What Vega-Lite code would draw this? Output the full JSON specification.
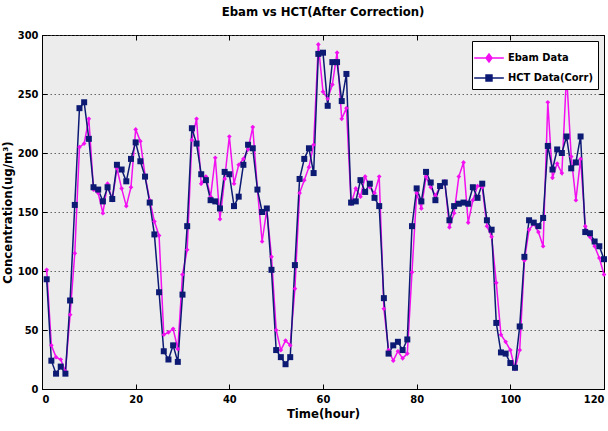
{
  "$schema": "https://vega.github.io/schema/vega-lite/v6.json",
  "width": 562,
  "height": 354,
  "autosize": {"type": "none"},
  "padding": {"left": 42, "top": 35, "right": 4, "bottom": 42},
  "background": "white",
  "title": {"text": "Ebam vs HCT(After Correction)", "fontSize": 13, "fontWeight": "bold", "font": "DejaVu Sans Condensed", "color": "#000", "offset": 10, "anchor": "middle"},
  "config": {
    "view": {"fill": "#ececec", "stroke": "#000", "strokeWidth": 1},
    "axis": {"domainColor": "#000", "tickColor": "#000", "labelColor": "#000", "titleColor": "#000", "labelFont": "DejaVu Sans Condensed", "titleFont": "DejaVu Sans Condensed", "labelFontWeight": "bold", "titleFontWeight": "bold", "labelFontSize": 11, "titleFontSize": 13, "gridColor": "#444", "gridDash": [1.5, 2.5], "gridOpacity": 0.8, "gridWidth": 1, "tickSize": -5, "labelPadding": 9}
  },
  "data": {"values": [
    {"hour":1,"series":"Ebam Data","value":101},{"hour":2,"series":"Ebam Data","value":37},{"hour":3,"series":"Ebam Data","value":27},{"hour":4,"series":"Ebam Data","value":25},{"hour":5,"series":"Ebam Data","value":15},{"hour":6,"series":"Ebam Data","value":63},{"hour":7,"series":"Ebam Data","value":115},{"hour":8,"series":"Ebam Data","value":205},{"hour":9,"series":"Ebam Data","value":208},{"hour":10,"series":"Ebam Data","value":229},
    {"hour":11,"series":"Ebam Data","value":169},{"hour":12,"series":"Ebam Data","value":166},{"hour":13,"series":"Ebam Data","value":149},{"hour":14,"series":"Ebam Data","value":174},{"hour":15,"series":"Ebam Data","value":160},{"hour":16,"series":"Ebam Data","value":187},{"hour":17,"series":"Ebam Data","value":170},{"hour":18,"series":"Ebam Data","value":155},{"hour":19,"series":"Ebam Data","value":171},{"hour":20,"series":"Ebam Data","value":220},
    {"hour":21,"series":"Ebam Data","value":210},{"hour":22,"series":"Ebam Data","value":181},{"hour":23,"series":"Ebam Data","value":160},{"hour":24,"series":"Ebam Data","value":142},{"hour":25,"series":"Ebam Data","value":130},{"hour":26,"series":"Ebam Data","value":46},{"hour":27,"series":"Ebam Data","value":48},{"hour":28,"series":"Ebam Data","value":51},{"hour":29,"series":"Ebam Data","value":34},{"hour":30,"series":"Ebam Data","value":97},
    {"hour":31,"series":"Ebam Data","value":118},{"hour":32,"series":"Ebam Data","value":211},{"hour":33,"series":"Ebam Data","value":229},{"hour":34,"series":"Ebam Data","value":174},{"hour":35,"series":"Ebam Data","value":180},{"hour":36,"series":"Ebam Data","value":163},{"hour":37,"series":"Ebam Data","value":196},{"hour":38,"series":"Ebam Data","value":144},{"hour":39,"series":"Ebam Data","value":178},{"hour":40,"series":"Ebam Data","value":214},
    {"hour":41,"series":"Ebam Data","value":174},{"hour":42,"series":"Ebam Data","value":190},{"hour":43,"series":"Ebam Data","value":195},{"hour":44,"series":"Ebam Data","value":203},{"hour":45,"series":"Ebam Data","value":222},{"hour":46,"series":"Ebam Data","value":169},{"hour":47,"series":"Ebam Data","value":125},{"hour":48,"series":"Ebam Data","value":152},{"hour":49,"series":"Ebam Data","value":112},{"hour":50,"series":"Ebam Data","value":50},
    {"hour":51,"series":"Ebam Data","value":33},{"hour":52,"series":"Ebam Data","value":41},{"hour":53,"series":"Ebam Data","value":37},{"hour":54,"series":"Ebam Data","value":85},{"hour":55,"series":"Ebam Data","value":166},{"hour":56,"series":"Ebam Data","value":177},{"hour":57,"series":"Ebam Data","value":188},{"hour":58,"series":"Ebam Data","value":207},{"hour":59,"series":"Ebam Data","value":292},{"hour":60,"series":"Ebam Data","value":252},
    {"hour":61,"series":"Ebam Data","value":246},{"hour":62,"series":"Ebam Data","value":258},{"hour":63,"series":"Ebam Data","value":285},{"hour":64,"series":"Ebam Data","value":229},{"hour":65,"series":"Ebam Data","value":238},{"hour":66,"series":"Ebam Data","value":157},{"hour":67,"series":"Ebam Data","value":170},{"hour":68,"series":"Ebam Data","value":163},{"hour":69,"series":"Ebam Data","value":180},{"hour":70,"series":"Ebam Data","value":171},
    {"hour":71,"series":"Ebam Data","value":166},{"hour":72,"series":"Ebam Data","value":180},{"hour":73,"series":"Ebam Data","value":68},{"hour":74,"series":"Ebam Data","value":33},{"hour":75,"series":"Ebam Data","value":24},{"hour":76,"series":"Ebam Data","value":32},{"hour":77,"series":"Ebam Data","value":26},{"hour":78,"series":"Ebam Data","value":30},{"hour":79,"series":"Ebam Data","value":99},{"hour":80,"series":"Ebam Data","value":166},
    {"hour":81,"series":"Ebam Data","value":153},{"hour":82,"series":"Ebam Data","value":180},{"hour":83,"series":"Ebam Data","value":171},{"hour":84,"series":"Ebam Data","value":164},{"hour":85,"series":"Ebam Data","value":171},{"hour":86,"series":"Ebam Data","value":176},{"hour":87,"series":"Ebam Data","value":137},{"hour":88,"series":"Ebam Data","value":149},{"hour":89,"series":"Ebam Data","value":180},{"hour":90,"series":"Ebam Data","value":192},
    {"hour":91,"series":"Ebam Data","value":141},{"hour":92,"series":"Ebam Data","value":160},{"hour":93,"series":"Ebam Data","value":172},{"hour":94,"series":"Ebam Data","value":171},{"hour":95,"series":"Ebam Data","value":138},{"hour":96,"series":"Ebam Data","value":129},{"hour":97,"series":"Ebam Data","value":90},{"hour":98,"series":"Ebam Data","value":46},{"hour":99,"series":"Ebam Data","value":40},{"hour":100,"series":"Ebam Data","value":33},
    {"hour":101,"series":"Ebam Data","value":17},{"hour":102,"series":"Ebam Data","value":33},{"hour":103,"series":"Ebam Data","value":109},{"hour":104,"series":"Ebam Data","value":135},{"hour":105,"series":"Ebam Data","value":140},{"hour":106,"series":"Ebam Data","value":133},{"hour":107,"series":"Ebam Data","value":121},{"hour":108,"series":"Ebam Data","value":243},{"hour":109,"series":"Ebam Data","value":179},{"hour":110,"series":"Ebam Data","value":191},
    {"hour":111,"series":"Ebam Data","value":183},{"hour":112,"series":"Ebam Data","value":267},{"hour":113,"series":"Ebam Data","value":197},{"hour":114,"series":"Ebam Data","value":160},{"hour":115,"series":"Ebam Data","value":195},{"hour":116,"series":"Ebam Data","value":138},{"hour":117,"series":"Ebam Data","value":129},{"hour":118,"series":"Ebam Data","value":121},{"hour":119,"series":"Ebam Data","value":111},{"hour":120,"series":"Ebam Data","value":97},
    {"hour":1,"series":"HCT Data(Corr)","value":93},{"hour":2,"series":"HCT Data(Corr)","value":24},{"hour":3,"series":"HCT Data(Corr)","value":13},{"hour":4,"series":"HCT Data(Corr)","value":19},{"hour":5,"series":"HCT Data(Corr)","value":13},{"hour":6,"series":"HCT Data(Corr)","value":75},{"hour":7,"series":"HCT Data(Corr)","value":156},{"hour":8,"series":"HCT Data(Corr)","value":238},{"hour":9,"series":"HCT Data(Corr)","value":243},{"hour":10,"series":"HCT Data(Corr)","value":212},
    {"hour":11,"series":"HCT Data(Corr)","value":171},{"hour":12,"series":"HCT Data(Corr)","value":169},{"hour":13,"series":"HCT Data(Corr)","value":159},{"hour":14,"series":"HCT Data(Corr)","value":171},{"hour":15,"series":"HCT Data(Corr)","value":161},{"hour":16,"series":"HCT Data(Corr)","value":190},{"hour":17,"series":"HCT Data(Corr)","value":186},{"hour":18,"series":"HCT Data(Corr)","value":176},{"hour":19,"series":"HCT Data(Corr)","value":195},{"hour":20,"series":"HCT Data(Corr)","value":209},
    {"hour":21,"series":"HCT Data(Corr)","value":193},{"hour":22,"series":"HCT Data(Corr)","value":180},{"hour":23,"series":"HCT Data(Corr)","value":158},{"hour":24,"series":"HCT Data(Corr)","value":131},{"hour":25,"series":"HCT Data(Corr)","value":82},{"hour":26,"series":"HCT Data(Corr)","value":32},{"hour":27,"series":"HCT Data(Corr)","value":25},{"hour":28,"series":"HCT Data(Corr)","value":37},{"hour":29,"series":"HCT Data(Corr)","value":23},{"hour":30,"series":"HCT Data(Corr)","value":80},
    {"hour":31,"series":"HCT Data(Corr)","value":138},{"hour":32,"series":"HCT Data(Corr)","value":221},{"hour":33,"series":"HCT Data(Corr)","value":208},{"hour":34,"series":"HCT Data(Corr)","value":182},{"hour":35,"series":"HCT Data(Corr)","value":177},{"hour":36,"series":"HCT Data(Corr)","value":160},{"hour":37,"series":"HCT Data(Corr)","value":159},{"hour":38,"series":"HCT Data(Corr)","value":153},{"hour":39,"series":"HCT Data(Corr)","value":184},{"hour":40,"series":"HCT Data(Corr)","value":182},
    {"hour":41,"series":"HCT Data(Corr)","value":155},{"hour":42,"series":"HCT Data(Corr)","value":163},{"hour":43,"series":"HCT Data(Corr)","value":190},{"hour":44,"series":"HCT Data(Corr)","value":207},{"hour":45,"series":"HCT Data(Corr)","value":204},{"hour":46,"series":"HCT Data(Corr)","value":169},{"hour":47,"series":"HCT Data(Corr)","value":150},{"hour":48,"series":"HCT Data(Corr)","value":153},{"hour":49,"series":"HCT Data(Corr)","value":101},{"hour":50,"series":"HCT Data(Corr)","value":33},
    {"hour":51,"series":"HCT Data(Corr)","value":27},{"hour":52,"series":"HCT Data(Corr)","value":21},{"hour":53,"series":"HCT Data(Corr)","value":27},{"hour":54,"series":"HCT Data(Corr)","value":105},{"hour":55,"series":"HCT Data(Corr)","value":178},{"hour":56,"series":"HCT Data(Corr)","value":195},{"hour":57,"series":"HCT Data(Corr)","value":204},{"hour":58,"series":"HCT Data(Corr)","value":183},{"hour":59,"series":"HCT Data(Corr)","value":284},{"hour":60,"series":"HCT Data(Corr)","value":285},
    {"hour":61,"series":"HCT Data(Corr)","value":240},{"hour":62,"series":"HCT Data(Corr)","value":277},{"hour":63,"series":"HCT Data(Corr)","value":277},{"hour":64,"series":"HCT Data(Corr)","value":244},{"hour":65,"series":"HCT Data(Corr)","value":267},{"hour":66,"series":"HCT Data(Corr)","value":158},{"hour":67,"series":"HCT Data(Corr)","value":159},{"hour":68,"series":"HCT Data(Corr)","value":177},{"hour":69,"series":"HCT Data(Corr)","value":167},{"hour":70,"series":"HCT Data(Corr)","value":174},
    {"hour":71,"series":"HCT Data(Corr)","value":162},{"hour":72,"series":"HCT Data(Corr)","value":155},{"hour":73,"series":"HCT Data(Corr)","value":77},{"hour":74,"series":"HCT Data(Corr)","value":30},{"hour":75,"series":"HCT Data(Corr)","value":37},{"hour":76,"series":"HCT Data(Corr)","value":40},{"hour":77,"series":"HCT Data(Corr)","value":33},{"hour":78,"series":"HCT Data(Corr)","value":42},{"hour":79,"series":"HCT Data(Corr)","value":138},{"hour":80,"series":"HCT Data(Corr)","value":170},
    {"hour":81,"series":"HCT Data(Corr)","value":159},{"hour":82,"series":"HCT Data(Corr)","value":184},{"hour":83,"series":"HCT Data(Corr)","value":175},{"hour":84,"series":"HCT Data(Corr)","value":160},{"hour":85,"series":"HCT Data(Corr)","value":172},{"hour":86,"series":"HCT Data(Corr)","value":175},{"hour":87,"series":"HCT Data(Corr)","value":143},{"hour":88,"series":"HCT Data(Corr)","value":155},{"hour":89,"series":"HCT Data(Corr)","value":157},{"hour":90,"series":"HCT Data(Corr)","value":158},
    {"hour":91,"series":"HCT Data(Corr)","value":157},{"hour":92,"series":"HCT Data(Corr)","value":171},{"hour":93,"series":"HCT Data(Corr)","value":162},{"hour":94,"series":"HCT Data(Corr)","value":174},{"hour":95,"series":"HCT Data(Corr)","value":143},{"hour":96,"series":"HCT Data(Corr)","value":135},{"hour":97,"series":"HCT Data(Corr)","value":56},{"hour":98,"series":"HCT Data(Corr)","value":31},{"hour":99,"series":"HCT Data(Corr)","value":30},{"hour":100,"series":"HCT Data(Corr)","value":22},
    {"hour":101,"series":"HCT Data(Corr)","value":18},{"hour":102,"series":"HCT Data(Corr)","value":53},{"hour":103,"series":"HCT Data(Corr)","value":112},{"hour":104,"series":"HCT Data(Corr)","value":143},{"hour":105,"series":"HCT Data(Corr)","value":141},{"hour":106,"series":"HCT Data(Corr)","value":138},{"hour":107,"series":"HCT Data(Corr)","value":145},{"hour":108,"series":"HCT Data(Corr)","value":206},{"hour":109,"series":"HCT Data(Corr)","value":186},{"hour":110,"series":"HCT Data(Corr)","value":203},
    {"hour":111,"series":"HCT Data(Corr)","value":200},{"hour":112,"series":"HCT Data(Corr)","value":214},{"hour":113,"series":"HCT Data(Corr)","value":187},{"hour":114,"series":"HCT Data(Corr)","value":192},{"hour":115,"series":"HCT Data(Corr)","value":214},{"hour":116,"series":"HCT Data(Corr)","value":133},{"hour":117,"series":"HCT Data(Corr)","value":132},{"hour":118,"series":"HCT Data(Corr)","value":125},{"hour":119,"series":"HCT Data(Corr)","value":121},{"hour":120,"series":"HCT Data(Corr)","value":110}
  ]},
  "resolve": {"axis": {"x": "independent", "y": "independent"}},
  "layer": [
    {
      "mark": {"type": "line", "strokeWidth": 1.5},
      "encoding": {
        "x": {"field": "hour", "type": "quantitative", "scale": {"domain": [0, 120], "nice": false}, "axis": {"values": [0, 20, 40, 60, 80, 100, 120], "title": "Time(hour)", "titlePadding": 3, "grid": false}},
        "y": {"field": "value", "type": "quantitative", "scale": {"domain": [0, 300], "nice": false}, "axis": {"values": [0, 50, 100, 150, 200, 250, 300], "title": "Concentration(ug/m³)", "titlePadding": 3, "grid": true}},
        "color": {
          "field": "series", "type": "nominal",
          "scale": {"domain": ["Ebam Data", "HCT Data(Corr)"], "range": ["#f20ff0", "#0c1a74"]},
          "legend": {
            "title": null, "orient": "top-right", "offset": 6, "zindex": 5,
            "fillColor": "white", "strokeColor": "#000", "padding": 5, "rowPadding": 1,
            "labelFont": "DejaVu Sans Condensed", "labelFontWeight": "bold", "labelFontSize": 11, "labelColor": "#000",
            "symbolSize": 484, "symbolStrokeWidth": 1.5, "labelOffset": 7,
            "encode": {"symbols": {
              "update": {
                "shape": {"signal": "datum.value == 'Ebam Data' ? 'M-1.35,0H1.35M-0.27,0L0,-0.36L0.27,0L0,0.36Z' : 'M-1.35,0H1.35M-0.27,-0.27H0.27V0.27H-0.27Z'"},
                "fill": {"signal": "scale('color', datum.value)"},
                "stroke": {"signal": "scale('color', datum.value)"},
                "strokeWidth": {"value": 1.5},
                "strokeOpacity": {"value": 1},
                "fillOpacity": {"value": 1},
                "opacity": {"value": 1}
              }
            }}
          }
        }
      }
    },
    {
      "transform": [{"filter": "datum.series == 'Ebam Data'"}],
      "mark": {"type": "point", "filled": true, "opacity": 1, "shape": "diamond", "size": 22, "color": "#f20ff0"},
      "encoding": {
        "x": {"field": "hour", "type": "quantitative", "scale": {"domain": [0, 120], "nice": false}, "axis": {"orient": "top", "values": [0, 20, 40, 60, 80, 100, 120], "labels": false, "title": null, "grid": false, "domain": false}},
        "y": {"field": "value", "type": "quantitative", "scale": {"domain": [0, 300], "nice": false}, "axis": {"orient": "right", "values": [0, 50, 100, 150, 200, 250, 300], "labels": false, "title": null, "grid": false, "domain": false}}
      }
    },
    {
      "transform": [{"filter": "datum.series == 'HCT Data(Corr)'"}],
      "mark": {"type": "point", "filled": true, "opacity": 1, "shape": "square", "size": 36, "color": "#0c1a74"},
      "encoding": {
        "x": {"field": "hour", "type": "quantitative", "scale": {"domain": [0, 120], "nice": false}, "axis": null},
        "y": {"field": "value", "type": "quantitative", "scale": {"domain": [0, 300], "nice": false}, "axis": null}
      }
    }
  ]
}
